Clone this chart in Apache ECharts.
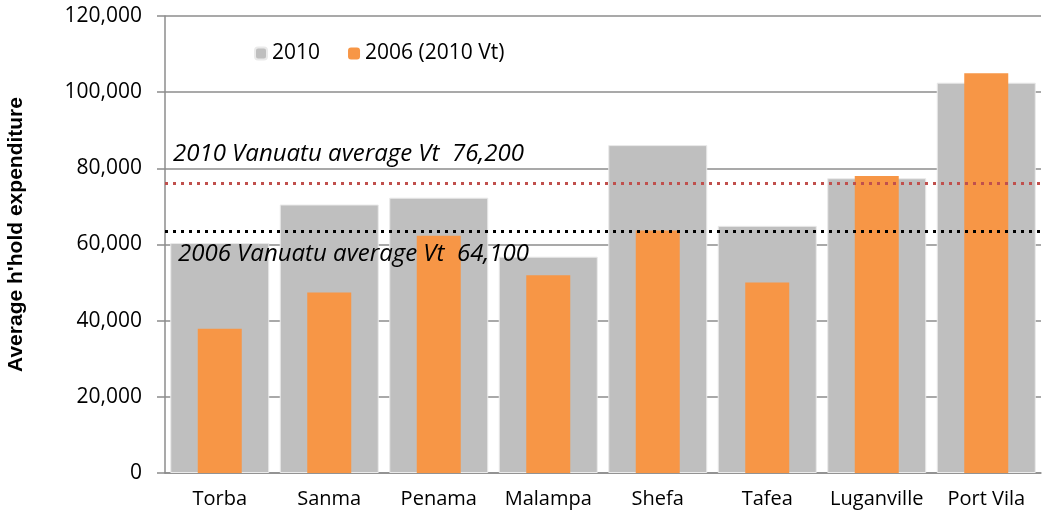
<!DOCTYPE html>
<html>
<head>
<meta charset="utf-8">
<script src="https://cdn.jsdelivr.net/npm/echarts@6/dist/echarts.min.js"></script>
<style>
  html, body { margin: 0; padding: 0; background: #fff; }
  #chart { width: 1051px; height: 518px; }
</style>
</head>
<body>
<div id="chart"></div>
<script>
var regions = ['Torba', 'Sanma', 'Penama', 'Malampa', 'Shefa', 'Tafea', 'Luganville', 'Port Vila'];
var exp2010 = [60400, 70500, 72300, 56800, 86100, 64900, 77400, 102500];
var exp2006 = [37900, 47400, 62300, 51900, 63700, 50000, 78000, 105000];
var avg2010 = 76200;
var avg2006 = 63500;
var avg2010Label = '2010 Vanuatu average Vt  76,200';
var avg2006Label = '2006 Vanuatu average Vt  64,100';

var font = '"Open Sans", sans-serif';
var chart = echarts.init(document.getElementById('chart'));

chart.setOption({
    animation: false,
    textStyle: { fontFamily: font },
    legend: {
        left: 249,
        top: 38,
        itemWidth: 12,
        itemHeight: 12,
        itemGap: 28,
        textStyle: { fontSize: 21, color: '#000', fontFamily: font },
        data: ['2010', '2006 (2010 Vt)']
    },
    grid: { left: 165, right: 10, top: 16, bottom: 45, outerBoundsMode: 'none', containLabel: false },
    xAxis: [{
        type: 'category',
        data: regions,
        axisLine: { lineStyle: { color: '#8c8c8c', width: 1.5 } },
        axisTick: { show: false },
        axisLabel: { color: '#000', fontSize: 20, margin: 16, interval: 0, fontFamily: font }
    }, {
        type: 'category',
        data: regions,
        show: false
    }],
    yAxis: {
        type: 'value',
        min: 0,
        max: 120000,
        interval: 20000,
        name: "Average h'hold expenditure",
        nameLocation: 'middle',
        nameGap: 138,
        nameTextStyle: { fontSize: 21, fontWeight: 'bold', color: '#000', fontFamily: 'Liberation Sans, Arial, sans-serif', padding: [0, 0, 0, 20] },
        axisLine: { show: true, lineStyle: { color: '#8c8c8c', width: 1.5 } },
        axisTick: { show: true, inside: false, length: 8, lineStyle: { color: '#8c8c8c', width: 1.5 } },
        axisLabel: {
            color: '#000',
            fontSize: 21,
            margin: 23,
            fontFamily: font,
            formatter: function (v) { return echarts.format.addCommas(v); }
        },
        splitLine: { lineStyle: { color: '#8c8c8c', width: 1.5 } }
    },
    series: [{
        name: '2010',
        type: 'bar',
        xAxisIndex: 0,
        barWidth: 99,
        data: exp2010,
        itemStyle: { color: '#bfbfbf', borderColor: '#eaeaea', borderWidth: 1 },
        markLine: {
            symbol: 'none',
            silent: true,
            z: 10,
            data: [{
                yAxis: avg2010,
                lineStyle: { color: '#c0504d', width: 3, type: [3, 5] },
                label: {
                    position: 'insideStartTop',
                    distance: [8, 17],
                    formatter: avg2010Label,
                    fontSize: 24,
                    fontStyle: 'italic',
                    color: '#000',
                    fontFamily: font
                }
            }, {
                yAxis: avg2006,
                lineStyle: { color: '#000', width: 3, type: [3, 5] },
                label: {
                    position: 'insideStartBottom',
                    distance: [13, 11],
                    formatter: avg2006Label,
                    fontSize: 24,
                    fontStyle: 'italic',
                    color: '#000',
                    fontFamily: font
                }
            }]
        }
    }, {
        name: '2006 (2010 Vt)',
        type: 'bar',
        xAxisIndex: 1,
        barWidth: 44,
        data: exp2006,
        itemStyle: { color: '#f79646' }
    }]
});
</script>
</body>
</html>
